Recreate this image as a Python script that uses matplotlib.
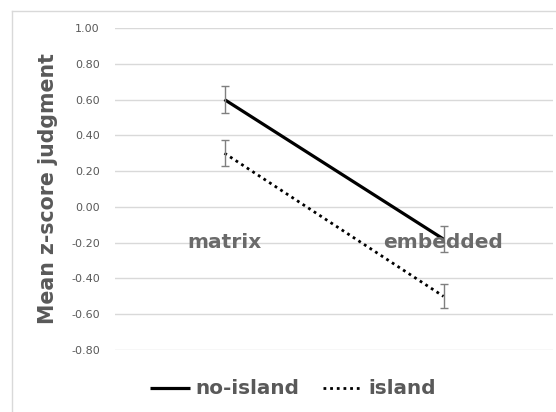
import numpy as np
import matplotlib.pyplot as plt

plt.rcParams['font.family'] = ['DejaVu Sans']

# Datos
condiciones = ['matrix', 'embedded']
no_island = [0.60, -0.18]
no_island_err = [0.075, 0.073]
island = [0.30, -0.50]
island_err = [0.072, 0.068]
yticks = [-0.80, -0.60, -0.40, -0.20, 0.00, 0.20, 0.40, 0.60, 0.80, 1.00]

gris = '#595959'
x = np.array([0.5, 1.5])

fig = plt.figure(figsize=(5.56, 4.12), dpi=100)
ax = fig.add_axes([115 / 556, 1 - 350 / 412, 438 / 556, 322 / 412])

ax.plot(x, no_island, '-', color='black', lw=2.3, label='no-island', solid_capstyle='butt')
ax.plot(x, island, color='black', lw=2.0, linestyle=(0, (1, 1.4)), label='island')
ax.errorbar(x, no_island, yerr=no_island_err, fmt='none', ecolor='#7f7f7f', elinewidth=1, capsize=3.2)
ax.errorbar(x, island, yerr=island_err, fmt='none', ecolor='#7f7f7f', elinewidth=1, capsize=3.2)

# Etiquetas de categoría dentro del área
for xi, nombre in zip(x, condiciones):
    ax.text(xi, -0.20, nombre, ha='center', va='center', fontsize=14.5,
            fontweight='bold', color='#6a6a6a')

ax.set_xlim(0, 2)
ax.set_ylim(-0.8, 1.0)
ax.set_yticks(yticks)
ax.set_yticklabels([f'{v:.2f}' for v in yticks], fontsize=8, color=gris)
ax.set_xticks([])
ax.tick_params(axis='y', length=0, pad=11)
ax.grid(axis='y', color='#d9d9d9', lw=1)
ax.set_axisbelow(True)
for s in ax.spines.values():
    s.set_visible(False)

fig.text(48 / 556, 1 - 189 / 412, 'Mean z-score judgment', rotation=90, ha='center', va='center',
         fontsize=14.8, fontweight='bold', color=gris)

# Borde del gráfico
fig.add_artist(plt.Line2D([12 / 556, 12 / 556], [0, 1 - 11 / 412], color='#d9d9d9', lw=1, transform=fig.transFigure))
fig.add_artist(plt.Line2D([12 / 556, 1], [1 - 11 / 412, 1 - 11 / 412], color='#d9d9d9', lw=1, transform=fig.transFigure))

leg = fig.legend(loc='center', bbox_to_anchor=(293 / 556, 1 - 389 / 412), ncol=2, frameon=False,
                 handlelength=2.0, handletextpad=0.3, columnspacing=1.15,
                 prop={'size': 14.4, 'weight': 'bold'})
for t in leg.get_texts():
    t.set_color(gris)

fig.savefig('out.png', dpi=100)
